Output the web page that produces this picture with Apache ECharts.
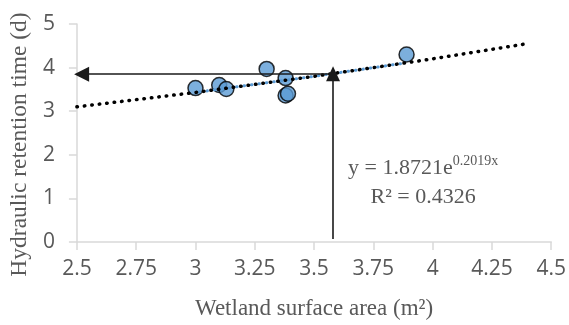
<!DOCTYPE html>
<html>
<head>
<meta charset="utf-8">
<script src="https://cdn.jsdelivr.net/npm/echarts@6/dist/echarts.min.js"></script>
<style>
  html, body { margin: 0; padding: 0; background: #fff; }
  #chart { width: 569px; height: 325px; }
</style>
</head>
<body>
<div id="chart"></div>
<script>
// measured points
const areaX = [3.0, 3.1, 3.13, 3.3, 3.38, 3.38, 3.39, 3.89];
const hrtY = [3.53, 3.6, 3.51, 3.97, 3.76, 3.36, 3.4, 4.3];
// exponential trendline, forecast span (black) and data span (blue)
const trendX = [2.5, 3.0, 3.5, 4.0, 4.4];
const trendY = [3.1, 3.43, 3.8, 4.2, 4.55];
const fitX = [3.0, 3.5, 3.89];
const fitY = [3.43, 3.8, 4.11];
// reading arrows
const readX = 3.58;
const readY = 3.86;
const arrowEndX = 2.52;
const xTicks = { min: 2.5, max: 4.5, step: 0.25 };
const yTicks = { min: 0, max: 5, step: 1 };

const pairs = (xs, ys) => xs.map((x, i) => [x, ys[i]]);
const grey = "#595959";
const axisGrey = "#d9d9d9";

const chart = echarts.init(document.getElementById("chart"));
chart.setOption({
  animation: false,
  grid: { left: 76, right: 16, top: 24, bottom: 79 },
  xAxis: {
    type: "value",
    min: xTicks.min,
    max: xTicks.max,
    interval: xTicks.step,
    name: "Wetland surface area (m²)",
    nameLocation: "middle",
    nameGap: 55,
    nameTextStyle: { color: grey, fontFamily: "Liberation Serif", fontSize: 23 },
    axisLine: { lineStyle: { color: axisGrey, width: 1.5 } },
    axisTick: { show: true, length: 8, lineStyle: { color: axisGrey, width: 1.5 } },
    axisLabel: { color: grey, fontFamily: "Open Sans", fontSize: 21, margin: 17 },
    splitLine: { show: false },
  },
  yAxis: {
    type: "value",
    min: yTicks.min,
    max: yTicks.max,
    interval: yTicks.step,
    name: "Hydraulic retention time (d)",
    nameLocation: "middle",
    nameGap: 44,
    nameTextStyle: { color: grey, fontFamily: "Liberation Serif", fontSize: 23.5, padding: [0, 23, 0, 0] },
    axisLine: { show: true, lineStyle: { color: axisGrey, width: 1.5 } },
    axisTick: { show: true, length: 8, lineStyle: { color: axisGrey, width: 1.5 } },
    axisLabel: { color: grey, fontFamily: "Open Sans", fontSize: 21, margin: 22 },
    splitLine: { show: false },
  },
  series: [
    {
      type: "scatter",
      data: pairs(areaX, hrtY),
      symbolSize: 15,
      itemStyle: { color: "#5b9bd5", borderColor: "#000", borderWidth: 1.5 },
      z: 2,
    },
    {
      type: "line",
      data: pairs(fitX, fitY),
      showSymbol: false,
      lineStyle: { color: "#5b9bd5", width: 3, type: [0.5, 7], cap: "round", dashOffset: 3.5 },
      z: 3,
    },
    {
      type: "line",
      data: pairs(trendX, trendY),
      showSymbol: false,
      lineStyle: { color: "#000", width: 3.5, type: [0.5, 7], cap: "round" },
      z: 4,
      markLine: {
        silent: true,
        animation: false,
        label: { show: false },
        lineStyle: { color: "#1a1a1a", width: 1.6, type: "solid" },
        data: [
          [
            { coord: [readX - 0.01, readY - 0.01], symbol: "none" },
            { coord: [arrowEndX, readY - 0.01], symbol: "triangle", symbolSize: [15, 15] },
          ],
          [
            { coord: [readX, 0.07], symbol: "none" },
            { coord: [readX, readY], symbol: "triangle", symbolSize: [14, 15] },
          ],
        ],
      },
    },
  ],
  graphic: [
    {
      type: "text",
      left: 348,
      top: 154,
      style: {
        text: "{b|y = 1.8721e}{s|0.2019x}\n{b|R² = 0.4326}",
        fill: grey,
        align: "center",
        rich: {
          b: { fontFamily: "Liberation Serif", fontSize: 22, fill: grey, lineHeight: 29, align: "center" },
          s: { fontFamily: "Liberation Serif", fontSize: 14, fill: grey, verticalAlign: "top", lineHeight: 29, padding: [0, 0, 10, 0] },
        },
      },
    },
  ],
});
</script>
</body>
</html>
